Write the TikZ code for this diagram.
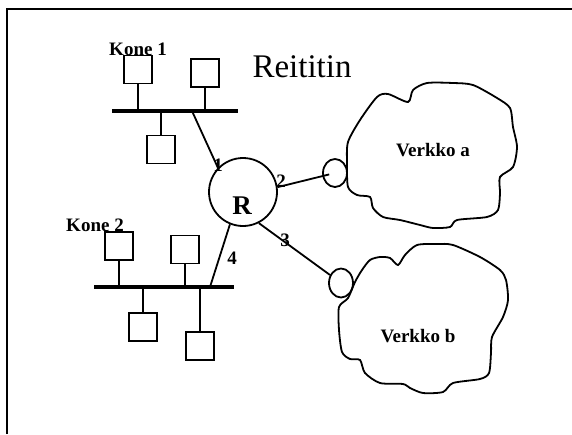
\documentclass[tikz,border=0pt]{standalone}
\usepackage{fontspec}
\setmainfont{Liberation Serif}
\usetikzlibrary{shapes.geometric}
\begin{document}
\begin{tikzpicture}[x=1pt,y=-1pt,
  host/.style={draw,line width=1.8pt,minimum width=28pt,minimum height=28pt,inner sep=0pt},
  wire/.style={line width=1.8pt},
  busline/.style={line width=3.8pt},
  lbl/.style={font=\fontsize{19}{19}\selectfont\bfseries,inner sep=0pt},
  port/.style={draw,ellipse,line width=1.8pt,minimum width=24pt,minimum height=28pt,inner sep=0pt},
  cloudline/.style={line width=1.8pt}]
\useasboundingbox (0,0) rectangle (572,434);
% frame
\draw[line width=2.4pt] (7,434) -- (7,9) -- (572,9);
% title
\node[font=\fontsize{33}{33}\selectfont,inner sep=0pt] (title) at (302,67) {Reititin};
% router
\node[draw,circle,line width=1.8pt,minimum size=68pt,inner sep=0pt] (R) at (243,192) {};
\node[font=\fontsize{27}{27}\selectfont\bfseries,inner sep=0pt] (Rl) at (242,206) {R};
% network 1
\coordinate (b1l) at (112,111);
\coordinate (b1r) at (238,111);
\draw[busline] (b1l) -- (b1r);
\node[host] (h11) at (138,69.5) {};
\node[host] (h12) at (205,73) {};
\node[host] (h13) at (161,149.5) {};
\draw[wire] (h11.south) -- (h11.south |- b1l);
\draw[wire] (h12.south) -- (h12.south |- b1l);
\draw[wire] (h13.north) -- (h13.north |- b1l);
\node[lbl] (kone1) at (138,49) {Kone 1};
\coordinate (t1) at (192,111);
\draw[wire] (t1) -- (R.136);
\node[lbl] (p1) at (218,165) {1};
% network 2
\coordinate (b2l) at (94,287);
\coordinate (b2r) at (234,287);
\draw[busline] (b2l) -- (b2r);
\node[host] (h21) at (119,246) {};
\node[host] (h22) at (185,249.5) {};
\node[host] (h23) at (143,327) {};
\node[host] (h24) at (200,346) {};
\draw[wire] (h21.south) -- (h21.south |- b2l);
\draw[wire] (h22.south) -- (h22.south |- b2l);
\draw[wire] (h23.north) -- (h23.north |- b2l);
\draw[wire] (h24.north) -- (h24.north |- b2l);
\node[lbl] (kone2) at (95,225) {Kone 2};
\coordinate (t2) at (210,287);
\draw[wire] (t2) -- (R.248);
\node[lbl] (p4) at (232,258) {4};
% ports
\node[port] (sa) at (335,173) {};
\node[port,minimum height=29pt] (sb) at (341,283) {};
\draw[wire,shorten >=6pt] (R.8) -- (sa.center);
\draw[wire] (R.-63) -- (sb);
\node[lbl] (p2) at (281,181) {2};
\node[lbl] (p3) at (285,240) {3};
% cloud a
\draw[cloudline] plot[smooth cycle,tension=0.45] coordinates {
 (348,142) (360,120) (377,97) (388,94) (408,102) (413,90) (427,83) (453,83)
 (473,85) (497,98) (510,108) (513,127) (517,147) (513,167) (500,177) (500,193)
 (498,210) (487,217) (457,220) (450,227) (433,228) (420,225) (400,220) (383,217)
 (373,208) (370,197) (357,195) (348,187) (347,163)};
\node[lbl] (va) at (433,150) {Verkko a};
% cloud b
\draw[cloudline] plot[smooth cycle,tension=0.45] coordinates {
 (339,307) (348,298) (355,282) (362,270) (370,260) (380,257) (390,258) (398,265)
 (405,255) (417,245) (437,244) (453,245) (480,257) (500,270) (506,280) (508,300)
 (503,317) (492,337) (491,353) (489,373) (480,379) (453,383) (443,392) (423,393)
 (410,388) (403,384) (380,383) (365,373) (360,360) (350,359) (342,352) (339,330)};
\node[lbl] (vb) at (418,336) {Verkko b};
\end{tikzpicture}
\end{document}
